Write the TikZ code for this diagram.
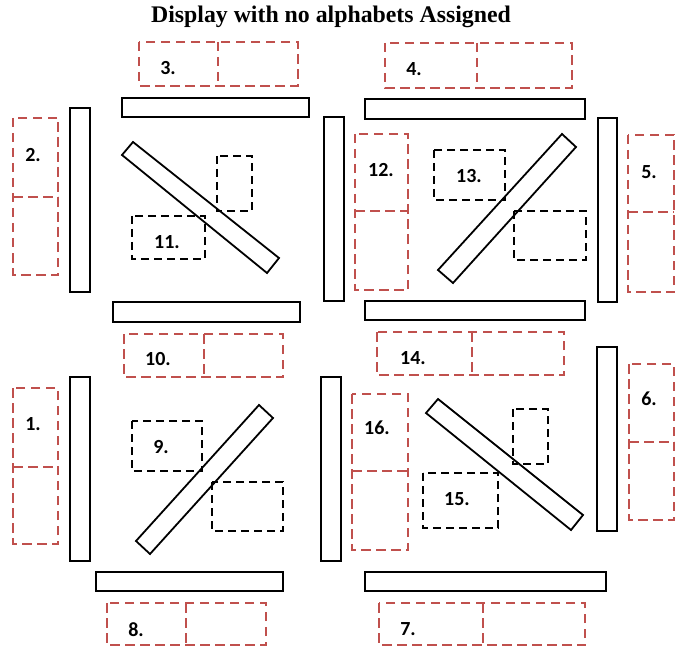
\documentclass[tikz,border=0pt]{standalone}
\usepackage{fontspec}
\setmainfont{Liberation Serif}
\newfontfamily\labelfont{Carlito}
\definecolor{slotred}{RGB}{192,80,77}
\tikzset{
  x=1pt, y=-1pt,
  bar/.style={draw=black, line width=1.8pt, fill=white},
  slot/.style={draw=slotred, line width=2.6pt, dash pattern=on 9.5pt off 5.5pt},
  inner/.style={draw=black, line width=2.5pt, dash pattern=on 8pt off 5pt},
  num/.style={font=\labelfont\bfseries\fontsize{20}{22}\selectfont, inner sep=0pt, text=black},
}
\newcommand{\slotpairH}[5]{% x1, xmid, x2, y1, y2 : side by side
  \draw[slot] (#1,#4) rectangle (#3,#5);
  \draw[slot] (#2,#4) -- (#2,#5);}
\newcommand{\slotpairV}[5]{% x1, x2, y1, ymid, y2 : stacked
  \draw[slot] (#1,#3) rectangle (#2,#5);
  \draw[slot] (#1,#4) -- (#2,#4);}
\begin{document}
\begin{tikzpicture}
\useasboundingbox (0,0) rectangle (680,647);

% title
\node[font=\bfseries\fontsize{23.8}{26}\selectfont, inner sep=0pt] (title) at (331,17) {Display with no alphabets Assigned};

% ---------- upper left block ----------
\draw[bar] (122,98) rectangle (309,117);
\draw[bar] (70,108) rectangle (90,292);
\draw[bar] (324,117) rectangle (344,301);
\draw[bar] (113,302) rectangle (300,322);
\draw[bar] (122,155) -- (133,142) -- (279,258) -- (267,273) -- cycle;
\draw[inner] (217,156) rectangle (252,211);
\draw[inner] (132,216) rectangle (205,259);
\slotpairH{139}{218}{298}{42}{86}
\slotpairV{13}{58}{118}{197}{275}
\slotpairH{124}{204}{283}{334}{377}
\node[num] (n3) at (168,68) {3.};
\node[num] (n2) at (33,155) {2.};
\node[num] (n11) at (167,242) {11.};
\node[num] (n10) at (158,359) {10.};

% ---------- upper right block ----------
\draw[bar] (365,99) rectangle (585,119);
\draw[bar] (598,118) rectangle (617,302);
\draw[bar] (365,301) rectangle (585,320);
\draw[bar] (438,270) -- (453,283) -- (576,147) -- (562,134) -- cycle;
\draw[inner] (434,150) rectangle (505,200);
\draw[inner] (514,211) rectangle (586,260);
\slotpairH{385}{477}{572}{43}{88}
\slotpairV{355}{408}{134}{211}{290}
\slotpairV{628}{674}{135}{212}{292}
\slotpairH{377}{472}{564}{332}{375}
\node[num] (n4) at (414,69) {4.};
\node[num] (n12) at (381,170) {12.};
\node[num] (n13) at (469,176) {13.};
\node[num] (n5) at (649,172) {5.};
\node[num] (n14) at (413,358) {14.};

% ---------- lower left block ----------
\draw[bar] (70,377) rectangle (90,561);
\draw[bar] (321,377) rectangle (341,561);
\draw[bar] (96,572) rectangle (283,591);
\draw[bar] (136,541) -- (150,554) -- (273,418) -- (259,405) -- cycle;
\draw[inner] (132,421) rectangle (202,471);
\draw[inner] (212,482) rectangle (283,531);
\slotpairV{13}{58}{388}{467}{544}
\slotpairH{107}{186}{266}{603}{645}
\node[num] (n1) at (33,424) {1.};
\node[num] (n9) at (161,447) {9.};
\node[num] (n8) at (136,630) {8.};

% ---------- lower right block ----------
\draw[bar] (597,347) rectangle (617,531);
\draw[bar] (365,572) rectangle (606,591);
\draw[bar] (426,413) -- (438,399) -- (583,515) -- (571,530) -- cycle;
\draw[inner] (513,409) rectangle (548,464);
\draw[inner] (423,473) rectangle (498,528);
\slotpairV{629}{674}{364}{442}{520}
\slotpairV{352}{408}{394}{471}{550}
\slotpairH{379}{483}{585}{603}{645}
\node[num] (n6) at (649,399) {6.};
\node[num] (n16) at (377,428) {16.};
\node[num] (n15) at (457,499) {15.};
\node[num] (n7) at (408,629) {7.};
\end{tikzpicture}
\end{document}
